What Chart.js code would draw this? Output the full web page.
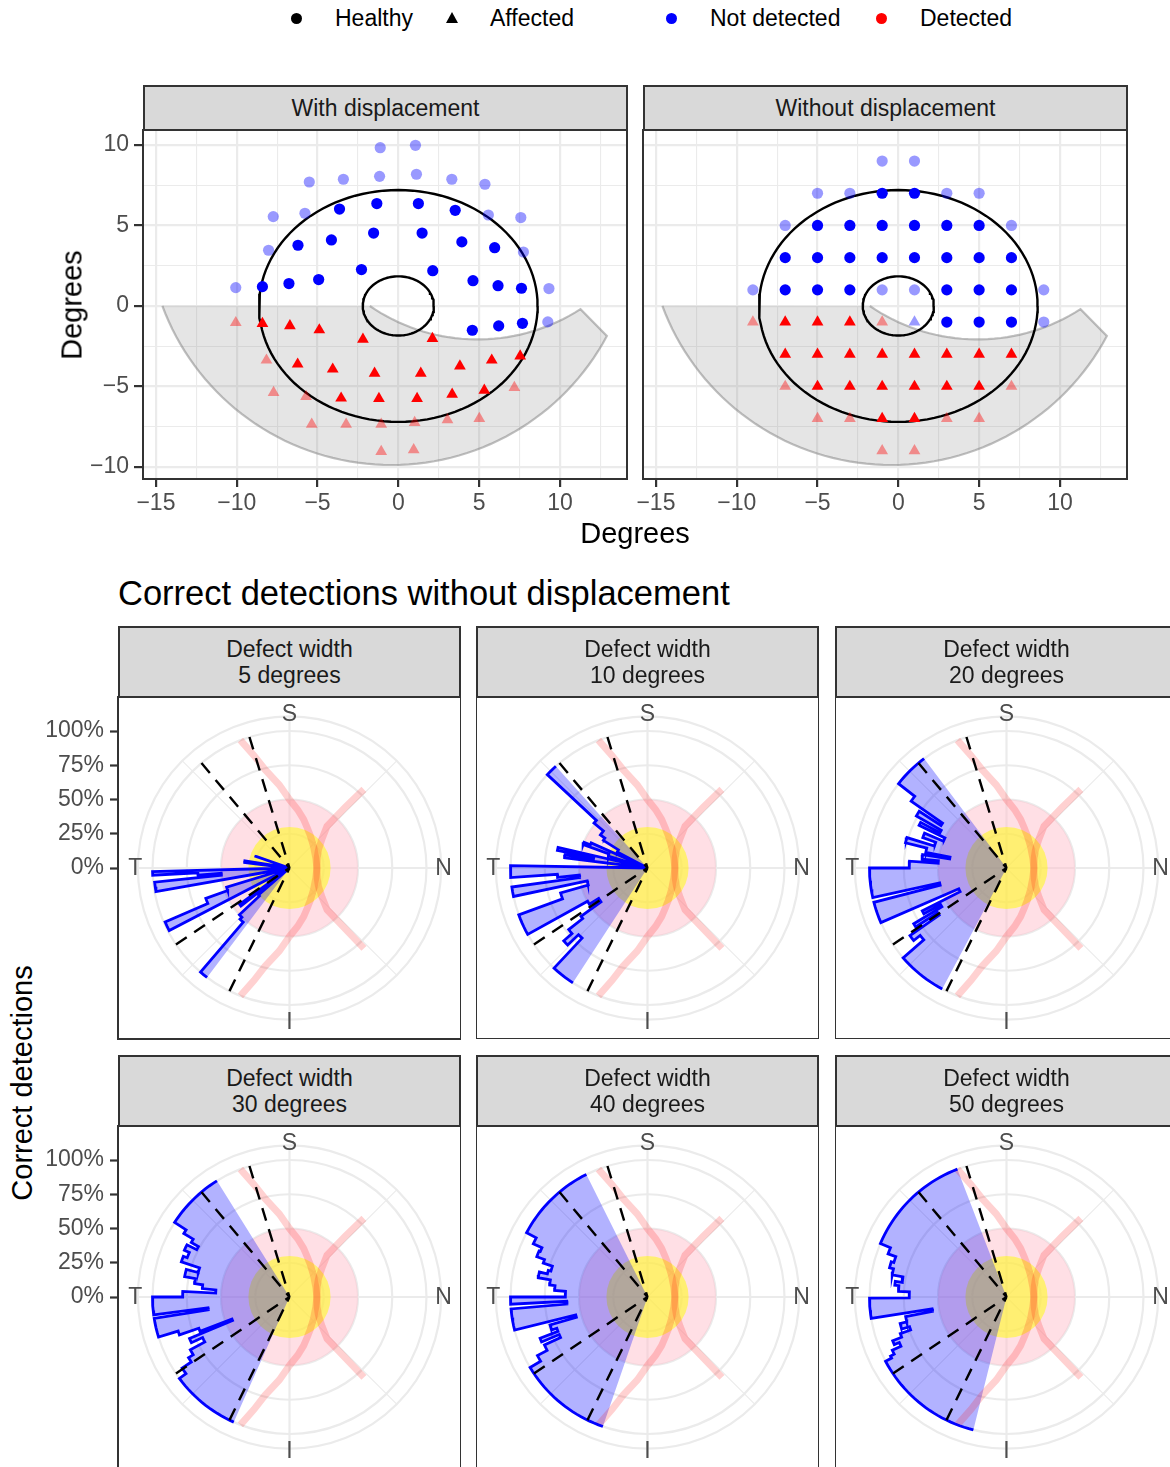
<!DOCTYPE html>
<html>
<head>
<meta charset="utf-8">
<title>Correct detections</title>
<script src="https://cdn.jsdelivr.net/npm/chart.js@4/dist/chart.umd.min.js"></script>
<style>
  html, body { margin: 0; padding: 0; }
  body { width: 1170px; height: 1467px; overflow: hidden; position: relative; background: #fff;
         font-family: "Liberation Sans", Arial, Helvetica, sans-serif; }
  canvas { position: absolute; }
  .strip { position: absolute; box-sizing: border-box; background: #D9D9D9; border: 2px solid #333;
           color: #1A1A1A; font-size: 23px; line-height: 26px; text-align: center;
           display: flex; flex-direction: column; justify-content: center; }
  .txt { position: absolute; white-space: nowrap; line-height: 1; }
  .key { position: absolute; }
  .rot { position: absolute; white-space: nowrap; line-height: 1; transform: translate(-50%, -50%) rotate(-90deg); }
</style>
</head>
<body>

<!-- legend -->
<div class="key" style="left:291px;top:13px;width:11px;height:11px;border-radius:50%;background:#000"></div>
<div class="txt" style="left:335px;top:7px;font-size:23px">Healthy</div>
<div class="key" style="left:446px;top:12px;width:0;height:0;border-left:6.5px solid transparent;border-right:6.5px solid transparent;border-bottom:11px solid #000"></div>
<div class="txt" style="left:490px;top:7px;font-size:23px">Affected</div>
<div class="key" style="left:666px;top:13px;width:11px;height:11px;border-radius:50%;background:#0000FF"></div>
<div class="txt" style="left:710px;top:7px;font-size:23px">Not detected</div>
<div class="key" style="left:876px;top:13px;width:11px;height:11px;border-radius:50%;background:#FF0000"></div>
<div class="txt" style="left:920px;top:7px;font-size:23px">Detected</div>

<!-- field panels -->
<canvas id="withDisp" width="550" height="410" style="left:80px;top:110px"></canvas>
<canvas id="noDisp" width="500" height="410" style="left:630px;top:110px"></canvas>
<div class="strip" style="left:143px;top:85px;width:485px;height:46px">With displacement</div>
<div class="strip" style="left:643px;top:85px;width:485px;height:46px">Without displacement</div>
<div class="rot" style="left:72px;top:305px;font-size:29px">Degrees</div>
<div class="txt" style="left:635px;top:519px;font-size:29px;transform:translateX(-50%)">Degrees</div>

<!-- polar panels -->
<div class="txt" style="left:118px;top:576px;font-size:34.5px">Correct detections without displacement</div>
<div class="rot" style="left:22px;top:1083px;font-size:29px">Correct detections</div>

<canvas id="w5" width="431" height="382" style="left:30px;top:677px"></canvas>
<canvas id="w10" width="343" height="342" style="left:476px;top:697px"></canvas>
<canvas id="w20" width="343" height="342" style="left:835px;top:697px"></canvas>
<canvas id="w30" width="431" height="382" style="left:30px;top:1106px"></canvas>
<canvas id="w40" width="343" height="342" style="left:476px;top:1126px"></canvas>
<canvas id="w50" width="343" height="342" style="left:835px;top:1126px"></canvas>

<div class="strip" style="left:118px;top:626px;width:343px;height:72px"><div>Defect width</div><div>5 degrees</div></div>
<div class="strip" style="left:476px;top:626px;width:343px;height:72px"><div>Defect width</div><div>10 degrees</div></div>
<div class="strip" style="left:835px;top:626px;width:343px;height:72px"><div>Defect width</div><div>20 degrees</div></div>
<div class="strip" style="left:118px;top:1055px;width:343px;height:72px"><div>Defect width</div><div>30 degrees</div></div>
<div class="strip" style="left:476px;top:1055px;width:343px;height:72px"><div>Defect width</div><div>40 degrees</div></div>
<div class="strip" style="left:835px;top:1055px;width:343px;height:72px"><div>Defect width</div><div>50 degrees</div></div>

<script>
Chart.defaults.font.family = "'Liberation Sans', Arial, Helvetica, sans-serif";
Chart.defaults.animation = false;

const GRID = '#EBEBEB';
const AXIS = '#333333';
const TEXT = '#4D4D4D';

// ---- field panels (degrees) ----
const fieldXTicks = [-15, -12.5, -10, -7.5, -5, -2.5, 0, 2.5, 5, 7.5, 10, 12.5];
const fieldYTicks = [-10, -7.5, -5, -2.5, 0, 2.5, 5, 7.5, 10];

// with displacement
const dispHealthyFaint = [[-1.12, 9.83], [1.06, 9.98], [-5.51, 7.70], [-3.40, 7.87], [-1.16, 8.05], [1.12, 8.18],
  [3.31, 7.87], [5.36, 7.56], [-7.74, 5.55], [-5.78, 5.76], [5.57, 5.65], [7.58, 5.49], [-8.03, 3.46],
  [7.74, 3.35], [-10.06, 1.14], [9.32, 1.08], [9.25, -0.99]];
const dispHealthy = [[-1.33, 6.36], [1.24, 6.36], [-3.64, 6.02], [3.52, 5.94], [-1.53, 4.53], [1.47, 4.53],
  [-4.14, 4.10], [-6.21, 3.77], [3.93, 3.98], [5.96, 3.62], [-2.28, 2.26], [2.13, 2.19], [-4.93, 1.64],
  [-6.77, 1.39], [-8.41, 1.20], [4.62, 1.57], [6.17, 1.26], [7.62, 1.10], [4.58, -1.51], [6.21, -1.24], [7.68, -1.08]];
const dispAffected = [[-8.41, -1.10], [-6.71, -1.24], [-4.89, -1.49], [-2.19, -2.07], [2.11, -2.03], [-6.23, -3.62],
  [-4.06, -3.93], [-1.47, -4.18], [1.39, -4.18], [3.81, -3.73], [5.78, -3.37], [7.54, -3.11], [-3.54, -5.73],
  [-1.20, -5.76], [1.16, -5.76], [3.33, -5.49], [5.32, -5.24]];
const dispAffectedFaint = [[-10.06, -1.04], [-8.16, -3.37], [-7.72, -5.38], [-5.71, -5.63], [-5.36, -7.35],
  [-3.23, -7.35], [-1.06, -7.35], [1.01, -7.25], [3.04, -7.08], [5.01, -7.00], [7.18, -5.07], [-1.06, -9.05], [0.95, -8.94]];

// without displacement
const noDispHealthyFaint = [[-1, 9], [1, 9], [-5, 7], [-3, 7], [3, 7], [5, 7], [-7, 5], [7, 5], [-9, 1], [-1, 1], [1, 1], [9, 1], [9, -1]];
const noDispHealthy = [[-1, 7], [1, 7], [-5, 5], [-3, 5], [-1, 5], [1, 5], [3, 5], [5, 5],
  [-7, 3], [-5, 3], [-3, 3], [-1, 3], [1, 3], [3, 3], [5, 3], [7, 3],
  [-7, 1], [-5, 1], [-3, 1], [3, 1], [5, 1], [7, 1], [3, -1], [5, -1], [7, -1]];
const noDispAffected = [[-7, -1], [-5, -1], [-3, -1],
  [-7, -3], [-5, -3], [-3, -3], [-1, -3], [1, -3], [3, -3], [5, -3], [7, -3],
  [-5, -5], [-3, -5], [-1, -5], [1, -5], [3, -5], [5, -5], [-1, -7], [1, -7]];
const noDispAffectedFaint = [[-9, -1], [-1, -1], [-7, -5], [7, -5], [-5, -7], [-3, -7], [3, -7], [5, -7], [-1, -9], [1, -9]];
const noDispMissedFaint = [[1, -1]];

// reference outlines
const outerEllipse = [8.62, 7.2];
const innerEllipse = [2.2, 1.84];
const crescentOuter = [-0.43, 5.22, 15.1, 200.2, 332];   // cx, cy, radius, from, to
const crescentInner = [4.9, 9.65, 11.73, 302.9, 235.4];

// ---- polar panels ----
const pctTicks = [0, 0.25, 0.5, 0.75, 1];
const pctLabels = ['0%', '25%', '50%', '75%', '100%'];
const thetaLabels = ['S', 'T', 'I', 'N'];
const thetaAngles = [0, 90, 180, 270];
const gridRings = [0.25, 0.5, 0.75, 1, 1.107];
const gridSpokes = [0, 45, 90, 135, 180, 225, 270, 315];

// bin edges (degrees counter-clockwise from S) and share of correct detections
const w5Edges = [69, 71, 81, 83, 91.5, 93, 94.5, 96, 100, 107, 110, 113.5, 117.5, 126, 128, 131, 133, 136, 139.5, 143];
const w5Values = [0.26, 0, 0.33, 0, 1.0, 0.67, 0.5, 0.99, 0, 0.48, 0.65, 0.99, 0, 0.45, 0, 0.3, 0.5, 0.52, 1.0];
const w10Edges = [42, 47, 50, 55, 58, 62, 66, 68, 70, 73, 77, 79, 81, 83, 89, 94, 96, 98, 102, 106, 110, 119, 122, 126, 128, 131, 134, 137, 147];
const w10Values = [1.0, 0.51, 0.42, 0.38, 0.25, 0, 0.45, 0.5, 0.3, 0, 0.67, 0.4, 0.61, 0, 1.0, 0.66, 0.5, 1.0, 0.45, 0.66, 1.0, 0.5, 0.42, 0.6, 0.73, 0.81, 0.7, 1.0];
const w20Edges = [37, 52, 55, 57, 60, 62, 64, 67, 70, 73, 76, 79, 81, 84, 86, 90, 102.5, 104.5, 113.5, 117, 119, 121, 123, 125, 128, 131, 152];
const w20Values = [1.0, 0.85, 0.57, 0.76, 0.55, 0.71, 0.5, 0.65, 0.55, 0.76, 0.6, 0.42, 0.62, 0.5, 0.71, 1.0, 0.5, 1.0, 0.38, 0.69, 0.55, 0.79, 0.6, 0.86, 0.8, 1.0];
const w30Edges = [32, 57, 59, 61, 63, 66, 69, 72, 75, 79, 82, 84.5, 87, 90, 97.5, 99, 107, 109, 111, 112.5, 115, 118, 121, 123.5, 126.5, 156];
const w30Values = [1.0, 0.9, 0.82, 0.76, 0.84, 0.8, 0.83, 0.69, 0.78, 0.7, 0.64, 0.54, 0.78, 1.0, 0.6, 1.0, 0.85, 0.7, 0.45, 0.79, 0.7, 0.82, 0.86, 0.94, 1.0];
const w40Edges = [26.5, 62, 65, 67, 70, 72, 75, 77, 80, 83, 86, 90, 93, 95, 104, 106, 109, 111, 113, 115, 118, 121, 161];
const w40Values = [1.0, 0.92, 0.85, 0.86, 0.8, 0.73, 0.75, 0.81, 0.72, 0.68, 0.6, 1.0, 0.59, 1.0, 0.54, 0.74, 0.7, 0.84, 0.7, 0.83, 0.91, 1.0];
const w50Edges = [21, 67, 70, 73, 76, 79, 82, 84, 87, 90.5, 99, 101, 104, 107, 109, 111, 113, 115, 117, 118, 166];
const w50Values = [1.0, 0.92, 0.86, 0.88, 0.85, 0.77, 0.82, 0.79, 0.71, 1.0, 0.55, 0.75, 0.8, 0.74, 0.82, 0.89, 0.85, 0.92, 0.95, 1.0];

// dashed reference sectors and the two raphe curves, as [angle, radius]
const dashAngles = [17, 40, 124, 154];
const pinkCurveA = [[21, 1.0], [17.5, 0.86], [13.9, 0.74], [7, 0.61], [0, 0.5], [-8, 0.43], [-16.2, 0.37], [-24, 0.32],
  [-33, 0.28], [-48, 0.236], [-70, 0.205], [-90, 0.2], [-110, 0.205], [-132, 0.236], [-147, 0.28], [-156, 0.32],
  [-163.8, 0.37], [-172, 0.43], [-180, 0.5], [-187, 0.61], [-194, 0.74], [-197.5, 0.86], [-201, 1.0]];
const pinkCurveB = [[-43.4, 0.79], [-42.5, 0.6], [-41.9, 0.41], [-48, 0.32], [-57.7, 0.25], [-70, 0.215], [-90, 0.2],
  [-110, 0.215], [-122.3, 0.25], [-132, 0.32], [-138, 0.41], [-137.5, 0.6], [-137.2, 0.8]];
const discs = [{ r: 0.5, colour: 'rgba(255,192,203,0.5)' }, { r: 0.3, colour: 'rgba(255,255,0,0.5)' }];

// ---------- helpers ----------
const fmt = v => (v < 0 ? '\u2212' + (-v) : String(v));
const isMajor = c => c.tick && Math.abs(c.tick.value % 5) < 1e-9;
const toXY = pts => pts.map(([x, y]) => ({ x, y }));
const noPadding = s => { s.paddingLeft = 0; s.paddingRight = 0; s.paddingTop = 0; s.paddingBottom = 0; };

function ellipsePts([a, b]) {
  const pts = [];
  for (let d = 0; d <= 360; d += 3) {
    const t = d * Math.PI / 180;
    pts.push({ x: a * Math.cos(t), y: b * Math.sin(t) });
  }
  return pts;
}

function arcPts([cx, cy, r, from, to]) {
  const pts = [];
  const n = Math.ceil(Math.abs(to - from) / 2);
  for (let k = 0; k <= n; k++) {
    const t = (from + (to - from) * k / n) * Math.PI / 180;
    pts.push({ x: cx + r * Math.cos(t), y: cy + r * Math.sin(t) });
  }
  return pts;
}

function polar(deg, r) {
  const a = deg * Math.PI / 180;
  return { x: -r * Math.sin(a), y: r * Math.cos(a) };
}

// outer outline of the histogram, each bin an arc at its value
function stepPath(edges, values) {
  const pts = [];
  values.forEach((v, i) => {
    const a0 = edges[i], a1 = edges[i + 1];
    const n = Math.max(1, Math.ceil((a1 - a0) / 2));
    for (let k = 0; k <= n; k++) pts.push(polar(a0 + (a1 - a0) * k / n, v));
  });
  return pts;
}

const panelBorder = {
  id: 'panelBorder',
  afterDraw(chart) {
    const { ctx, chartArea: a } = chart;
    ctx.save();
    ctx.strokeStyle = AXIS;
    ctx.lineWidth = 2;
    ctx.strokeRect(a.left, a.top, a.right - a.left, a.bottom - a.top);
    ctx.restore();
  }
};

// ---------- field charts ----------
const crescentPts = [...arcPts(crescentOuter), ...arcPts(crescentInner)];

function fieldChart(id, showY, groups) {
  const datasets = [
    { data: crescentPts, showLine: true, fill: 'shape', backgroundColor: 'rgba(127,127,127,0.2)',
      borderColor: 'rgba(127,127,127,0.5)', borderWidth: 2.2, pointRadius: 0, order: 50 },
    { data: ellipsePts(outerEllipse), showLine: true, borderColor: '#000', borderWidth: 2.4, pointRadius: 0, order: 40 },
    { data: ellipsePts(innerEllipse), showLine: true, borderColor: '#000', borderWidth: 2.4, pointRadius: 0, order: 40 },
    ...groups.map(g => ({
      data: toXY(g.pts), pointStyle: g.shape, pointRadius: g.shape === 'triangle' ? 6.8 : 5.6,
      backgroundColor: g.colour, borderWidth: 0, order: 10
    }))
  ];
  return new Chart(document.getElementById(id), {
    type: 'scatter',
    data: { datasets },
    options: {
      responsive: false,
      events: [],
      layout: { autoPadding: false, padding: { top: 20, right: 3, left: 0, bottom: 0 } },
      plugins: { legend: { display: false }, tooltip: { enabled: false } },
      scales: {
        x: {
          type: 'linear', min: -15.8, max: 14.15,
          afterBuildTicks: s => { s.ticks = fieldXTicks.map(v => ({ value: v })); },
          afterFit: s => { s.height = 41; noPadding(s); },
          border: { display: false },
          grid: { color: GRID, lineWidth: c => isMajor(c) ? 2.2 : 1.1, tickLength: 8, tickWidth: 2.2,
                  tickColor: c => isMajor(c) ? AXIS : 'rgba(0,0,0,0)' },
          ticks: { autoSkip: false, maxRotation: 0, padding: 3, color: TEXT, font: { size: 23 },
                   callback: v => Math.abs(v % 5) < 1e-9 ? fmt(v) : '' }
        },
        y: {
          type: 'linear', min: -10.75, max: 10.93,
          afterBuildTicks: s => { s.ticks = fieldYTicks.map(v => ({ value: v })); },
          afterFit: s => { s.width = showY ? 63 : 13; noPadding(s); },
          border: { display: false },
          grid: { color: GRID, lineWidth: c => isMajor(c) ? 2.2 : 1.1, drawTicks: showY, tickLength: 9, tickWidth: 2.2,
                  tickColor: c => isMajor(c) ? AXIS : 'rgba(0,0,0,0)' },
          ticks: { display: showY, autoSkip: false, padding: 5, color: TEXT, font: { size: 23 },
                   callback: v => Math.abs(v % 5) < 1e-9 ? fmt(v) : '' }
        }
      }
    },
    plugins: [panelBorder]
  });
}

const BLUE = '#0000FF', BLUE_FAINT = 'rgba(0,0,255,0.4)';
const RED = '#FF0000', RED_FAINT = 'rgba(255,0,0,0.4)';

fieldChart('withDisp', true, [
  { pts: dispHealthyFaint, shape: 'circle', colour: BLUE_FAINT },
  { pts: dispHealthy, shape: 'circle', colour: BLUE },
  { pts: dispAffectedFaint, shape: 'triangle', colour: RED_FAINT },
  { pts: dispAffected, shape: 'triangle', colour: RED }
]);
fieldChart('noDisp', false, [
  { pts: noDispHealthyFaint, shape: 'circle', colour: BLUE_FAINT },
  { pts: noDispHealthy, shape: 'circle', colour: BLUE },
  { pts: noDispAffectedFaint, shape: 'triangle', colour: RED_FAINT },
  { pts: noDispMissedFaint, shape: 'triangle', colour: BLUE_FAINT },
  { pts: noDispAffected, shape: 'triangle', colour: RED }
]);

// ---------- polar charts ----------
const polarBackdrop = {
  id: 'polarBackdrop',
  beforeDatasetsDraw(chart) {
    const { ctx, scales: { x, y } } = chart;
    const cx = x.getPixelForValue(0), cy = y.getPixelForValue(0);
    const unit = x.getPixelForValue(1) - cx;
    ctx.save();
    ctx.strokeStyle = GRID;
    gridRings.forEach(r => {
      ctx.lineWidth = 2.2;
      ctx.beginPath(); ctx.arc(cx, cy, r * unit, 0, 2 * Math.PI); ctx.stroke();
    });
    gridSpokes.forEach(a => {
      const p = polar(a, gridRings[gridRings.length - 1]);
      ctx.lineWidth = a % 90 === 0 ? 2.2 : 1.1;
      ctx.beginPath(); ctx.moveTo(cx, cy);
      ctx.lineTo(x.getPixelForValue(p.x), y.getPixelForValue(p.y)); ctx.stroke();
    });
    discs.forEach(d => {
      ctx.fillStyle = d.colour;
      ctx.beginPath(); ctx.arc(cx, cy, d.r * unit, 0, 2 * Math.PI); ctx.fill();
    });
    ctx.restore();
  },
  afterDatasetsDraw(chart) {
    const { ctx, scales: { x, y } } = chart;
    ctx.save();
    ctx.font = "23px 'Liberation Sans', Arial, sans-serif";
    ctx.fillStyle = TEXT;
    ctx.textAlign = 'center';
    ctx.textBaseline = 'middle';
    thetaLabels.forEach((t, i) => {
      const p = polar(thetaAngles[i], 1.125);
      ctx.fillText(t, x.getPixelForValue(p.x), y.getPixelForValue(p.y) + 1);
    });
    ctx.restore();
  }
};

function polarChart(id, edges, values, withAxis) {
  const path = stepPath(edges, values);
  const line = (data, colour, width, order, dash) => ({
    data, showLine: true, fill: false, borderColor: colour, borderWidth: width,
    borderDash: dash || [], pointRadius: 0, order
  });
  const datasets = [
    { data: [{ x: 0, y: 0 }, ...path, { x: 0, y: 0 }], showLine: true, fill: 'shape',
      backgroundColor: 'rgba(0,0,255,0.3)', borderWidth: 0, pointRadius: 0, order: 40 },
    line(pinkCurveA.map(([a, r]) => polar(a, r)), 'rgba(255,0,0,0.18)', 7, 30),
    line(pinkCurveB.map(([a, r]) => polar(a, r)), 'rgba(255,0,0,0.18)', 7, 30),
    line(path, BLUE, 2.8, 20),
    ...dashAngles.map(a => line([polar(a, 1), polar(a, 0)], '#000', 2.4, 10, [13, 9]))
  ];
  return new Chart(document.getElementById(id), {
    type: 'scatter',
    data: { datasets },
    options: {
      responsive: false,
      events: [],
      layout: { autoPadding: false, padding: withAxis ? { top: 20, bottom: 20, left: 0, right: 0 } : 0 },
      plugins: { legend: { display: false }, tooltip: { enabled: false } },
      scales: {
        x: { type: 'linear', min: -1.252, max: 1.252, display: false,
             afterFit: s => { s.height = 0; noPadding(s); } },
        y: {
          type: 'linear', min: -1.2485, max: 1.2485, display: withAxis,
          afterBuildTicks: s => { s.ticks = pctTicks.map(v => ({ value: v })); },
          afterFit: s => { s.width = withAxis ? 88 : 0; noPadding(s); },
          border: { display: false },
          grid: { drawOnChartArea: false, tickLength: 8, tickWidth: 2.2, tickColor: AXIS },
          ticks: { autoSkip: false, padding: 6, color: TEXT, font: { size: 23 },
                   callback: (v, i) => pctLabels[i] }
        }
      }
    },
    plugins: [polarBackdrop, panelBorder]
  });
}

polarChart('w5', w5Edges, w5Values, true);
polarChart('w10', w10Edges, w10Values, false);
polarChart('w20', w20Edges, w20Values, false);
polarChart('w30', w30Edges, w30Values, true);
polarChart('w40', w40Edges, w40Values, false);
polarChart('w50', w50Edges, w50Values, false);
</script>
</body>
</html>
